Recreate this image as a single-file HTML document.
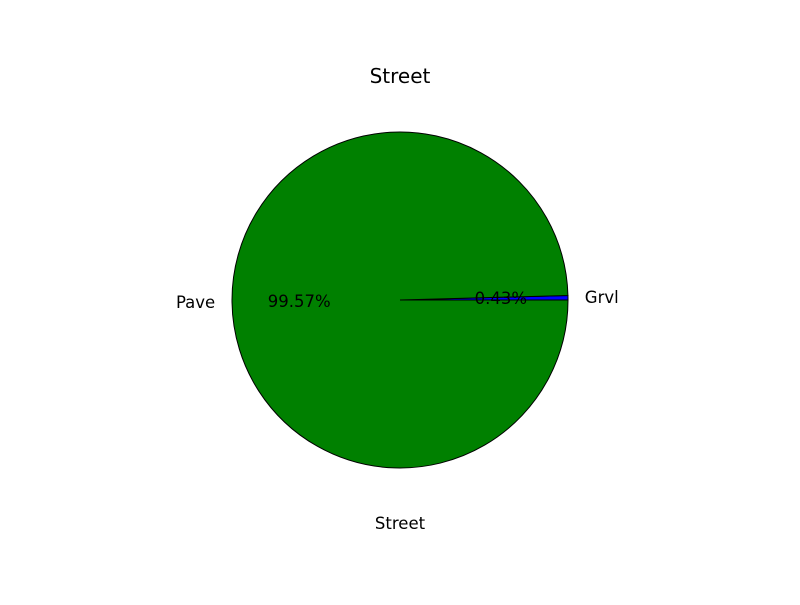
<!DOCTYPE html>
<html><head><meta charset="utf-8"><style>
body{margin:0;background:#fff;}
svg text{font-family:"DejaVu Sans","Liberation Sans",sans-serif;}
</style></head><body>
<svg id="chart" width="800" height="600">
<rect width="800" height="600" fill="#fff"/>
<text x="400" y="83" font-size="20" text-anchor="middle">Street</text>
<text x="400" y="529" font-size="16.5" text-anchor="middle">Street</text>
<g id="slices"></g>
<g id="labels"></g>
</svg>
<script>
const categories = ["Grvl", "Pave"];
const values = [0.43, 99.57];
const colors = ["#0000ff", "#008000"];
const pctLabels = ["0.43%", "99.57%"];
const cx = 400, cy = 300, r = 168;
const g = document.getElementById('slices');
const gl = document.getElementById('labels');
const ns = "http://www.w3.org/2000/svg";
const total = values.reduce((a, b) => a + b, 0);
let start = 0;
values.forEach((v, i) => {
  const sweep = v / total * 2 * Math.PI;
  const a0 = start, a1 = start + sweep;
  const x0 = cx + r * Math.cos(a0), y0 = cy - r * Math.sin(a0);
  const x1 = cx + r * Math.cos(a1), y1 = cy - r * Math.sin(a1);
  const large = sweep > Math.PI ? 1 : 0;
  const p = document.createElementNS(ns, 'path');
  p.setAttribute('d', `M${cx},${cy} L${x0},${y0} A${r},${r} 0 ${large} 0 ${x1},${y1} Z`);
  p.setAttribute('fill', colors[i]);
  p.setAttribute('stroke', '#000');
  p.setAttribute('stroke-width', '1');
  
  
  g.appendChild(p);
  const mid = (a0 + a1) / 2;
  const lx = cx + 1.1 * r * Math.cos(mid), ly = cy - 1.1 * r * Math.sin(mid);
  const t = document.createElementNS(ns, 'text');
  t.setAttribute('x', lx);
  t.setAttribute('y', ly + 5.5);
  t.setAttribute('font-size', '16.5');
  t.setAttribute('text-anchor', Math.cos(mid) >= 0 ? 'start' : 'end');
  t.textContent = categories[i];
  
  
  gl.appendChild(t);
  const px = cx + 0.6 * r * Math.cos(mid), py = cy - 0.6 * r * Math.sin(mid);
  const pt = document.createElementNS(ns, 'text');
  pt.setAttribute('x', px);
  pt.setAttribute('y', py + 5.5);
  pt.setAttribute('font-size', '16.5');
  pt.setAttribute('text-anchor', 'middle');
  pt.textContent = pctLabels[i];
  
  
  gl.appendChild(pt);
  start = a1;
});
</script>
</body></html>
